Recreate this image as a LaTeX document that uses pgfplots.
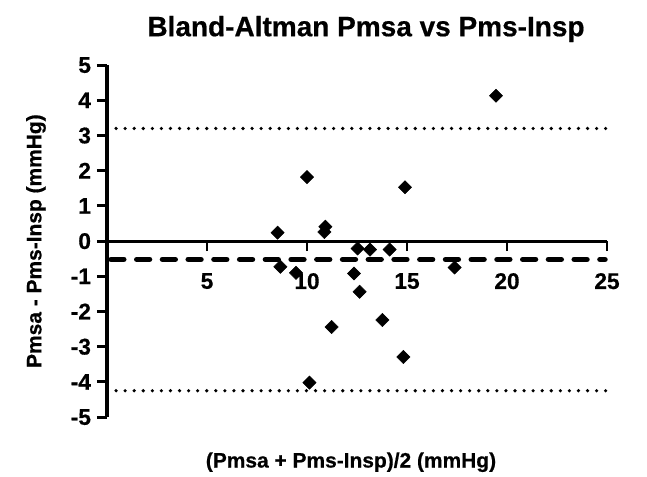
\documentclass[border=0pt]{standalone}
\usepackage{fontspec}
\setmainfont{Liberation Sans}[BoldFeatures={FakeBold=0.6}]
\usepackage{pgfplots}
\pgfplotsset{compat=1.18}

% pixels of the reference at 0.75pt each
\begin{document}
\begin{tikzpicture}
\begin{axis}[
    scale only axis,
    width=375pt,
    height=264pt,
    xmin=0, xmax=25,
    ymin=-5, ymax=5,
    axis x line=middle,
    axis y line=left,
    axis line style={line width=2.4pt, -},
    tick style={line width=2.2pt, black},
    tick align=outside,
    major tick length=7.5pt,
    xtick={0,5,10,15,20,25},
    xticklabels={,5,10,15,20,25},
    ytick={-5,-4,...,5},
    /pgf/number format/assume math mode=true,
    ticklabel style={font=\fontsize{17}{20}\selectfont\bfseries},
    xticklabel style={yshift=-13pt},
    yticklabel style={xshift=-1pt},
    clip=false,
    title={Bland-Altman Pmsa vs Pms-Insp},
    title style={font=\fontsize{21}{24}\selectfont\bfseries, at={(rel axis cs:0.518,1.08)}, anchor=center},
    xlabel={(Pmsa + Pms-Insp)/2 (mmHg)},
    ylabel={Pmsa - Pms-Insp (mmHg)},
    every axis x label/.style={at={(rel axis cs:0.488,-0.128)}, anchor=center, font=\fontsize{15.7}{19}\selectfont\bfseries},
    every axis y label/.style={at={(rel axis cs:-0.142,0.5)}, rotate=90, anchor=center, font=\fontsize{15.7}{19}\selectfont\bfseries},
]
\path[use as bounding box] (rel axis cs:-0.214,-0.162) rectangle (rel axis cs:1.08,1.185);
% limits of agreement and mean difference
\addplot[black, line width=2.7pt, dash pattern=on 0pt off 6.8pt, line cap=round] coordinates {(0,3.2) (25,3.2)};
\addplot[black, line width=2.7pt, dash pattern=on 0pt off 6.8pt, line cap=round] coordinates {(0,-4.25) (25,-4.25)};
\addplot[black, line width=4.1pt, line cap=round, dash pattern=on 9.6pt off 9.7pt] coordinates {(0.2,-0.52) (24.9,-0.52)};
% data
\addplot[only marks, mark=square*, mark size=3.5pt, mark options={rotate=45, fill=black, draw=black}] coordinates {
(19.45,4.13) (10.0,1.82) (14.9,1.53) (8.53,0.24) (10.92,0.41) (10.87,0.26)
(12.53,-0.21) (13.15,-0.24) (14.13,-0.24) (8.67,-0.73) (9.45,-0.9) (12.35,-0.92)
(17.38,-0.75) (12.63,-1.44) (11.23,-2.44) (13.77,-2.24) (14.82,-3.29) (10.12,-4.02)
};
\end{axis}
\end{tikzpicture}
\end{document}
